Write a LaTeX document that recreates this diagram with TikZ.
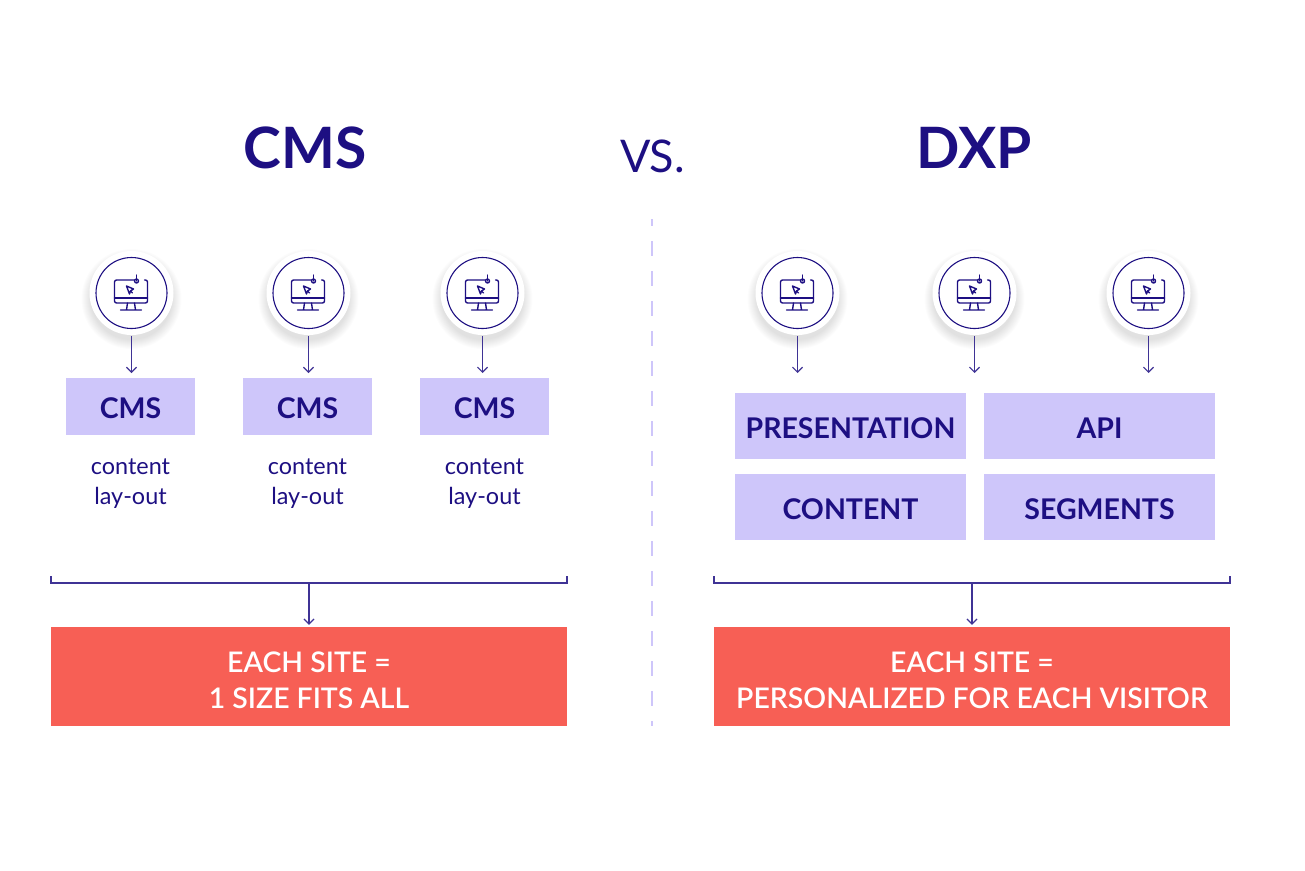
\documentclass[tikz,border=0pt]{standalone}
\usepackage{fontspec}
\setmainfont{Lato}
\newfontfamily\semifont{Lato Semibold}
\usepackage{xcolor}
\usetikzlibrary{arrows.meta, positioning, calc}
\definecolor{navy}{HTML}{1D0F82}
\definecolor{lilac}{HTML}{CEC6FA}
\definecolor{coral}{HTML}{F75F55}
\tikzset{
  head/.style={text=navy, font=\fontsize{57}{60}\selectfont\bfseries, inner sep=0pt},
  tag/.style={fill=lilac, text=navy, font=\fontsize{28.5}{32}\selectfont\bfseries, inner sep=0pt, text height=24pt, text depth=0pt},
  note/.style={text=navy, font=\fontsize{23.4}{30}\selectfont, align=center, inner sep=0pt},
  banner/.style={fill=coral, text=white, font=\fontsize{28.4}{36}\selectfont\semifont, align=center, inner sep=0pt, minimum width=516, minimum height=99},
  link/.style={navy!85, line width=1.2pt, -{Straight Barb[length=5pt,width=10pt]}},
  brace/.style={navy!85, line width=1.2pt},
  pics/screen/.style={code={
    \foreach \r in {50,49,...,41}
      \fill[black, opacity=.012] (0,6) circle (\r);
    \node[circle, fill=white, minimum size=84, inner sep=0pt] (-halo) at (0,0) {};
    \node[circle, draw=navy, line width=1.1pt, fill=white, minimum size=71, inner sep=0pt] (-disc) at (0,0) {};
    \begin{scope}[navy, line width=1.4pt, line cap=round, line join=round]
      \draw[rounded corners=2pt] (3,-13) -- (-17,-13) -- (-17,10) -- (16,10) -- (16,-13) -- (13,-13);
      \draw (-17,5) -- (16,5);
      \draw (-4,10) -- (-5,17) (3,10) -- (4,17) (-11,17) -- (10,17);
      \draw (5,-18) -- (5,-12);
      \draw (5,-12) circle (2);
      \draw (-5,-7) -- (2,-4) -- (-1,-2) -- (-2,1) -- cycle;
      \draw (-1,-2) -- (1,0);
    \end{scope}
  }}
}
\begin{document}
\begin{tikzpicture}[x=1pt, y=-1pt]
\useasboundingbox (0,0) rectangle (1305,870);

% titles
\node[head] (cmstitle) at (305,148) {CMS};
\node[head] (dxptitle) at (974,148) {DXP};
\node[text=navy, font=\fontsize{45}{48}\selectfont, inner sep=0pt] (versus) at (652.5,156) {VS.};

% divider
\coordinate (divtop) at (652,219);
\coordinate (divend) at (652,726);
\draw[lilac, line width=1.3pt, dash pattern=on 15pt off 15pt, dash phase=8pt] (divtop) -- (divend);

% left column
\foreach \n/\x/\bx in {a/131.5/130.5,b/308.5/307.5,c/482.5/484.5}{
  \pic (scr\n) at (\x,293) {screen};
  \node[tag, minimum width=129, minimum height=57] (cms\n) at (\bx,406.5) {CMS};
  \coordinate (tip\n) at (\x,373);
  \draw[link] (scr\n-disc.south |- 0,336) -- (tip\n);
  \node[note] (txt\n) at (\bx,483.5) {content\\lay-out};
}

% right column
\foreach \n/\x in {d/797.5,e/974.5,f/1148.5}{
  \pic (scr\n) at (\x,293) {screen};
  \coordinate (tip\n) at (\x,373);
  \draw[link] (scr\n-disc.south |- 0,336) -- (tip\n);
}
\node[tag, minimum width=231, minimum height=66] (pres) at (850.5,426) {PRESENTATION};
\node[tag, minimum width=231, minimum height=66] (api) at (1099.5,426) {API};
\node[tag, minimum width=231, minimum height=66] (cont) at (850.5,507) {CONTENT};
\node[tag, minimum width=231, minimum height=66] (segs) at (1099.5,507) {SEGMENTS};

% result banners
\node[banner] (sizeall) at (309,676.5) {\rule{0pt}{29pt}EACH SITE =\\1 SIZE FITS ALL};
\node[banner] (personal) at (972,676.5) {\rule{0pt}{29pt}EACH SITE =\\PERSONALIZED FOR EACH VISITOR};

% brackets
\coordinate (bl) at (51,576);
\coordinate (br) at (567,576);
\coordinate (bm) at (309,583);
\coordinate (dl) at (714,576);
\coordinate (dr) at (1230,576);
\coordinate (dm) at (972,583);
\draw[brace] (bl) |- (bm) -| (br);
\draw[brace] (dl) |- (dm) -| (dr);
\draw[link, shorten >=2pt] (bm) -- (sizeall.north);
\draw[link, shorten >=2pt] (dm) -- (personal.north);
\end{tikzpicture}
\end{document}
